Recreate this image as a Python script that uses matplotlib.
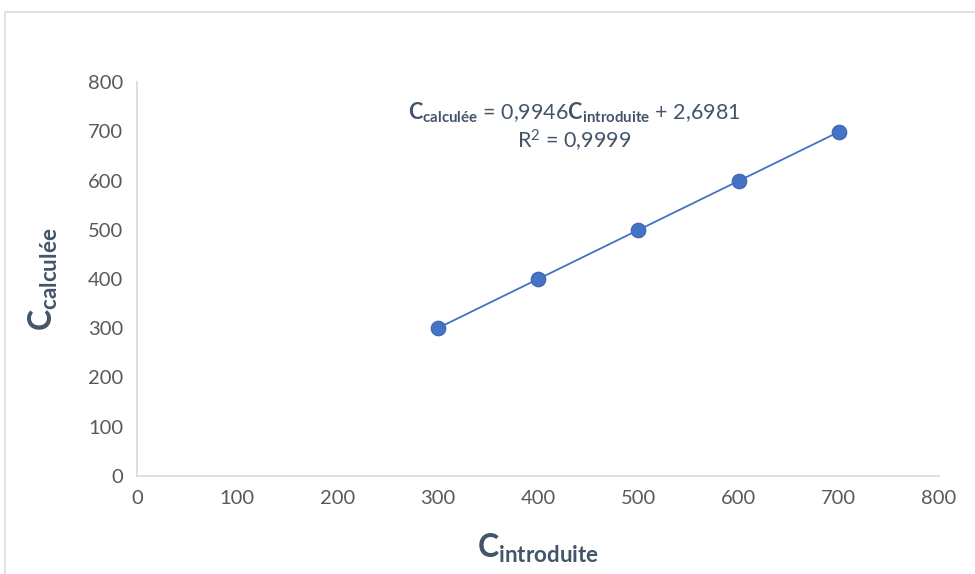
import matplotlib.pyplot as plt
import matplotlib.patches as patches
import numpy as np

plt.rcParams['font.family'] = ['Lato', 'DejaVu Sans']
plt.rcParams['mathtext.fontset'] = 'custom'
plt.rcParams['mathtext.rm'] = 'Lato'
plt.rcParams['mathtext.bf'] = 'Lato:bold'
plt.rcParams['mathtext.it'] = 'Lato:italic'

# data
c_introduite = [300, 400, 500, 600, 700]
c_calculee = [300, 400, 499, 600, 698]

text_col = '#595959'
lab_col = '#44546a'
blue = '#4472C4'

fig = plt.figure(figsize=(9.75, 5.74), dpi=100)
fig.patches.append(patches.Rectangle((5 / 975, -0.1), 1.1, 1 - 12 / 574 + 0.1,
                                     transform=fig.transFigure, fill=False,
                                     edgecolor='#d9dce3', linewidth=1.2))
ax = fig.add_axes([137 / 975, 1 - 476 / 574, (939 - 137) / 975, (476 - 82) / 574])

slope, inter = np.polyfit(c_introduite, c_calculee, 1)
xs = np.array([min(c_introduite), max(c_introduite)])
ax.plot(xs, slope * xs + inter, color=blue, linewidth=1.3, zorder=2)
ax.scatter(c_introduite, c_calculee, s=110, color=blue, edgecolor='#3a64b0',
           linewidth=0.8, zorder=3)

ax.set_xlim(0, 800)
ax.set_ylim(0, 800)
ax.set_xticks(np.arange(0, 801, 100))
ax.set_yticks(np.arange(0, 801, 100))
ax.tick_params(length=0, labelsize=14.5, colors=text_col, pad=10)
for s in ['top', 'right']:
    ax.spines[s].set_visible(False)
for s in ['left', 'bottom']:
    ax.spines[s].set_color('#d9d9d9')
    ax.spines[s].set_linewidth(1.2)

ax.set_xlabel(r'$\mathbf{C}_{\mathbf{introduite}}$', fontsize=23, color=lab_col, labelpad=18)
ax.set_ylabel(r'$\mathbf{C}_{\mathbf{calculée}}$', fontsize=23, color=lab_col, labelpad=20)

ax.text(436, 737, r'$\mathbf{C}_{\mathbf{calculée}}$ = 0,9946$\mathbf{C}_{\mathbf{introduite}}$ + 2,6981',
        ha='center', va='center', fontsize=15.5, color=lab_col)
ax.text(436, 680, r'R$^2$ = 0,9999', ha='center', va='center', fontsize=15.5, color=lab_col)

fig.savefig('out.png', dpi=100)
